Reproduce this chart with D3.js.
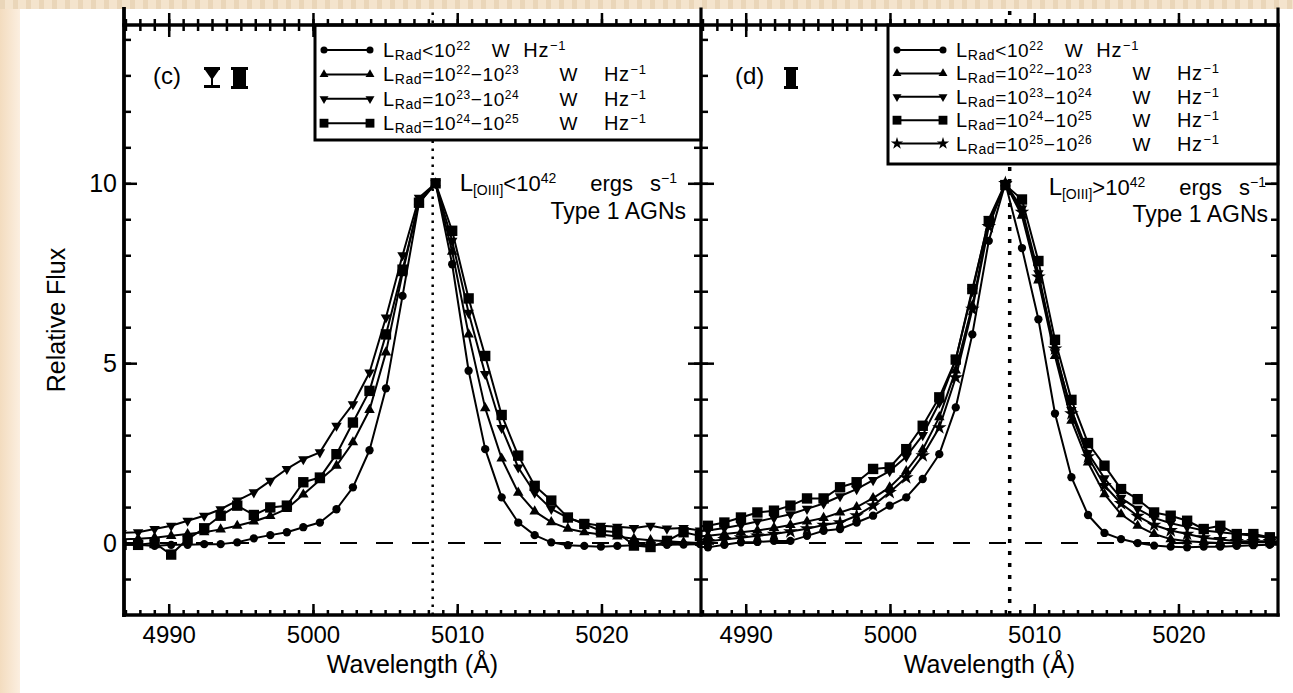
<!DOCTYPE html>
<html>
<head>
<meta charset="utf-8">
<script src="https://cdn.jsdelivr.net/npm/d3@7"></script>
<style>
  html, body { margin: 0; padding: 0; background: #fff; }
  svg { display: block; font-family: "Liberation Sans", Arial, Helvetica, sans-serif; }
</style>
</head>
<body>
<svg id="fig" width="1293" height="693"></svg>
<script>
// ---- data -------------------------------------------------------------
// Rest-frame wavelength grid (Å) of the stacked [O III] 5007 profiles
const waveC = [4986.73, 4987.88, 4989.02, 4990.17, 4991.31, 4992.46, 4993.60, 4994.75, 4995.90, 4997.04,
               4998.19, 4999.33, 5000.48, 5001.63, 5002.77, 5003.92, 5005.06, 5006.21, 5007.35, 5008.50,
               5009.65, 5010.79, 5011.94, 5013.08, 5014.23, 5015.37, 5016.52, 5017.67, 5018.81, 5019.96,
               5021.10, 5022.25, 5023.40, 5024.54, 5025.69, 5026.83, 5027.98];
const waveD = [4986.23, 4987.38, 4988.52, 4989.67, 4990.81, 4991.96, 4993.10, 4994.25, 4995.40, 4996.54,
               4997.69, 4998.83, 4999.98, 5001.13, 5002.27, 5003.42, 5004.56, 5005.71, 5006.85, 5008.00,
               5009.15, 5010.29, 5011.44, 5012.58, 5013.73, 5014.87, 5016.02, 5017.17, 5018.31, 5019.46,
               5020.60, 5021.75, 5022.90, 5024.04, 5025.19, 5026.33, 5027.48];

// Panel (c): L[OIII] < 1e42 erg/s, relative flux per radio-luminosity bin
const fluxC_rad22 = [-0.05, -0.05, -0.08, -0.05, -0.05, -0.03, -0.03, 0.02, 0.13, 0.22,
                     0.30, 0.44, 0.57, 0.94, 1.55, 2.58, 4.30, 6.87, 9.45, 10.0,
                     7.75, 4.79, 2.61, 1.27, 0.57, 0.22, 0.02, -0.06, -0.08, -0.10,
                     -0.08, -0.06, -0.05, -0.05, -0.04, -0.03, -0.03];
const fluxC_rad23 = [0.10, 0.12, 0.15, 0.20, 0.25, 0.30, 0.38, 0.48, 0.60, 0.75,
                     0.95, 1.35, 1.75, 2.15, 2.80, 3.70, 5.30, 7.50, 9.50, 10.0,
                     8.10, 5.80, 3.75, 2.35, 1.40, 0.88, 0.58, 0.40, 0.30, 0.24,
                     0.18, 0.12, 0.08, 0.05, 0.02, 0.00, 0.00];
const fluxC_rad24 = [0.28, 0.30, 0.39, 0.48, 0.62, 0.76, 0.94, 1.18, 1.41, 1.73,
                     2.06, 2.33, 2.52, 3.26, 3.86, 4.74, 6.27, 8.00, 9.60, 10.0,
                     8.40, 6.40, 4.70, 3.20, 2.10, 1.40, 0.95, 0.70, 0.55, 0.48,
                     0.45, 0.42, 0.48, 0.40, 0.42, 0.35, 0.30];
const fluxC_rad25 = [-0.05, -0.05, 0.00, -0.32, 0.11, 0.41, 0.76, 1.04, 0.78, 0.99,
                     1.04, 1.69, 1.82, 2.47, 3.35, 4.23, 5.80, 7.60, 9.46, 10.0,
                     8.68, 6.80, 5.20, 3.56, 2.43, 1.59, 1.18, 0.71, 0.53, 0.34,
                     0.30, -0.07, -0.11, 0.06, 0.30, 0.20, 0.15];

// Panel (d): L[OIII] > 1e42 erg/s
const fluxD_rad22 = [-0.10, -0.12, -0.05, 0.02, 0.03, 0.06, 0.06, 0.20, 0.34, 0.39,
                     0.57, 0.76, 1.04, 1.27, 1.78, 2.47, 3.77, 5.80, 8.40, 10.0,
                     8.20, 6.22, 3.60, 1.83, 0.78, 0.28, 0.11, 0.00, -0.07, -0.10,
                     -0.12, -0.10, -0.10, -0.08, -0.06, -0.05, -0.05];
const fluxD_rad23 = [0.18, 0.20, 0.25, 0.30, 0.35, 0.42, 0.50, 0.60, 0.70, 0.85,
                     1.00, 1.25, 1.55, 2.00, 2.60, 3.50, 4.80, 6.60, 8.90, 10.0,
                     9.10, 7.30, 5.20, 3.40, 2.24, 1.36, 0.80, 0.48, 0.25, 0.11,
                     0.05, 0.02, 0.00, 0.00, 0.02, 0.02, 0.02];
const fluxD_rad24 = [0.32, 0.35, 0.42, 0.50, 0.60, 0.70, 0.80, 0.95, 1.10, 1.30,
                     1.50, 1.75, 2.00, 2.40, 3.00, 3.90, 5.10, 7.00, 9.00, 10.0,
                     9.30, 7.50, 5.30, 3.70, 2.50, 1.80, 1.25, 0.95, 0.70, 0.55,
                     0.45, 0.35, 0.30, 0.25, 0.20, 0.15, 0.15];
const fluxD_rad25 = [0.45, 0.48, 0.57, 0.71, 0.85, 0.90, 1.04, 1.24, 1.24, 1.55,
                     1.69, 2.06, 2.10, 2.61, 3.26, 4.05, 5.10, 7.06, 8.95, 9.95,
                     9.55, 7.84, 5.65, 3.98, 2.78, 2.15, 1.50, 1.22, 0.85, 0.76,
                     0.62, 0.39, 0.48, 0.25, 0.25, 0.16, 0.15];
const fluxD_rad26 = [0.03, 0.05, 0.10, 0.15, 0.20, 0.25, 0.32, 0.40, 0.50, 0.57,
                     0.76, 1.04, 1.41, 1.82, 2.43, 3.21, 4.60, 6.50, 8.80, 10.0,
                     9.20, 7.40, 5.40, 3.60, 2.40, 1.60, 1.10, 0.75, 0.50, 0.35,
                     0.25, 0.15, 0.10, 0.05, 0.05, 0.05, 0.05];

// Legend pieces: relation sign and powers of ten (W Hz^-1)
const radRelation = ["<", "=", "=", "=", "="];
const radLowPower = ["22", "22", "23", "24", "25"];
const radHighPower = [null, "23", "24", "25", "26"];
const radSymbols = ["circle", "triangleUp", "triangleDown", "square", "star"];

// Axis ticks
const xTickLabels = [4990, 5000, 5010, 5020];
const yTickLabels = [0, 5, 10];
const lineCentre = 5008.3;   // [O III] 5007 vacuum wavelength marker

// ---- layout -----------------------------------------------------------
const svg = d3.select("#fig");
const W = 1293, H = 693;
const plotTop = 25, plotBottom = 615, figTop = 9;
const panels = [
  { id: "c", left: 124, right: 701, wave: waveC,
    series: [fluxC_rad22, fluxC_rad23, fluxC_rad24, fluxC_rad25],
    oiii: "<", legendBox: [315, 701, 140], legendStep: 24.4,
    noteX: [677, 686], noteY: [191, 219], dotWidth: 2.5, dotDash: "2.5,5.5" },
  { id: "d", left: 701, right: 1278, wave: waveD,
    series: [fluxD_rad22, fluxD_rad23, fluxD_rad24, fluxD_rad25, fluxD_rad26],
    oiii: ">", legendBox: [888, 1278, 164], legendStep: 23.4,
    noteX: [1266, 1268], noteY: [195, 222], dotWidth: 3.5, dotDash: "4,8" }
];

const y = d3.scaleLinear().domain([-2, 14.4]).range([plotBottom, plotTop]);

// ---- background -------------------------------------------------------
const defs = svg.append("defs");
const pat = defs.append("pattern").attr("id", "stripes")
  .attr("patternUnits", "userSpaceOnUse").attr("width", 13).attr("height", 20);
pat.append("rect").attr("width", 13).attr("height", 20).attr("fill", "#f4e4cd");
pat.append("rect").attr("x", 0).attr("width", 5).attr("height", 20).attr("fill", "#ead6b9");
const lg = defs.append("linearGradient").attr("id", "edge").attr("x1", 0).attr("x2", 1).attr("y1", 0).attr("y2", 0);
lg.append("stop").attr("offset", 0).attr("stop-color", "#f3dcbf");
lg.append("stop").attr("offset", 1).attr("stop-color", "#fcefe0");

svg.append("rect").attr("width", W).attr("height", H).attr("fill", "url(#stripes)");
svg.append("rect").attr("x", 0).attr("y", figTop).attr("width", 20).attr("height", H - figTop).attr("fill", "url(#edge)");
svg.append("rect").attr("x", 20).attr("y", figTop).attr("width", W - 20).attr("height", H - figTop).attr("fill", "#fff");

// ---- marker shapes ----------------------------------------------------
const symbolOf = {
  circle: d3.symbol(d3.symbolCircle, 54),
  triangleUp: d3.symbol(d3.symbolTriangle, 48),
  triangleDown: d3.symbol(d3.symbolTriangle, 48),
  square: d3.symbol(d3.symbolSquare, 108),
  star: d3.symbol(d3.symbolStar, 66)
};
function drawMarker(g, type, cx, cy, scale = 1) {
  const rot = type === "triangleDown" ? " rotate(180)" : "";
  g.append("path")
    .attr("d", symbolOf[type]())
    .attr("transform", `translate(${cx},${cy})${rot} scale(${scale})`)
    .attr("fill", "#000");
}

// ---- text helpers -----------------------------------------------------
function radLabel(g, i, x, yb) {
  const wide = !!radHighPower[i];
  const t = g.append("text").attr("x", x).attr("y", yb).attr("font-size", 19)
    .attr("letter-spacing", 0.6).attr("fill", "#000");
  t.append("tspan").attr("font-size", 20).text("L");
  t.append("tspan").attr("font-size", 14).attr("dy", 3).text("Rad");
  t.append("tspan").attr("dy", -3).text(radRelation[i] + "10");
  t.append("tspan").attr("font-size", 12).attr("dy", -7).text(radLowPower[i]);
  if (wide) {
    t.append("tspan").attr("dy", 7).text("\u221210");
    t.append("tspan").attr("font-size", 12).attr("dy", -7).text(radHighPower[i]);
  }
  t.append("tspan").attr("dy", 7).attr("dx", wide ? 40 : 21).text("W");
  t.append("tspan").attr("dx", wide ? 26 : 13).attr("font-size", 20).text("Hz");
  t.append("tspan").attr("font-size", 13).attr("dy", -7).attr("dx", 1).text("\u22121");
}
function oiiiNote(g, rel, x, yb) {
  const t = g.append("text").attr("x", x).attr("y", yb).attr("font-size", 22)
    .attr("text-anchor", "end").attr("fill", "#000");
  t.append("tspan").attr("font-size", 24).text("L");
  t.append("tspan").attr("font-size", 14).attr("dy", 4).text("[OIII]");
  t.append("tspan").attr("dy", -4).text(rel + "10");
  t.append("tspan").attr("font-size", 14).attr("dy", -8).text("42");
  t.append("tspan").attr("dy", 8).attr("dx", 34).text("ergs");
  t.append("tspan").attr("dx", 17).text("s");
  t.append("tspan").attr("font-size", 14).attr("dy", -8).text("\u22121");
}

// ---- panels -----------------------------------------------------------
panels.forEach((p, pi) => {
  const x = d3.scaleLinear().domain([4986.9, 5026.9]).range([p.left, p.right]);
  const g = svg.append("g");

  // clip region for the profiles
  defs.append("clipPath").attr("id", "clip-" + p.id)
    .append("rect").attr("x", p.left).attr("y", plotTop)
    .attr("width", p.right - p.left).attr("height", plotBottom - plotTop);

  // zero level and line-centre marker
  g.append("line").attr("x1", x.range()[0]).attr("x2", x.range()[1])
    .attr("y1", y(0)).attr("y2", y(0))
    .attr("stroke", "#000").attr("stroke-width", 2).attr("stroke-dasharray", "17,19");
  g.append("line").attr("x1", x(lineCentre)).attr("x2", x(lineCentre))
    .attr("y1", plotBottom).attr("y2", figTop + 2)
    .attr("stroke", "#000").attr("stroke-width", p.dotWidth).attr("stroke-dasharray", p.dotDash);

  // profiles
  const curves = g.append("g").attr("clip-path", `url(#clip-${p.id})`);
  const line = d3.line().x((d, i) => x(p.wave[i])).y(d => y(d));
  p.series.forEach((vals, si) => {
    curves.append("path").datum(vals).attr("d", line)
      .attr("fill", "none").attr("stroke", "#000").attr("stroke-width", 2)
      .attr("stroke-linejoin", "round");
  });
  p.series.forEach((vals, si) => {
    vals.forEach((v, i) => drawMarker(curves, radSymbols[si], x(p.wave[i]), y(v)));
  });

  // axes: ticks from d3 axes, frame drawn as heavy lines
  const tickStyle = sel => {
    sel.select(".domain").remove();
    sel.selectAll(".tick line").attr("stroke", "#000").attr("stroke-width", 2.5);
    sel.selectAll(".tick text").attr("fill", "#000").attr("font-size", 24)
      .attr("font-family", "Liberation Sans, Arial, sans-serif");
  };
  const minorX = d3.range(4987, 5027);
  const minorY = d3.range(-1, 15);

  // bottom
  g.append("g").attr("transform", `translate(0,${plotBottom})`)
    .call(d3.axisBottom(x).tickValues(minorX).tickSizeInner(-5).tickSizeOuter(0).tickFormat(""))
    .call(tickStyle);
  g.append("g").attr("transform", `translate(0,${plotBottom})`)
    .call(d3.axisBottom(x).tickValues(xTickLabels).tickSizeInner(-11).tickSizeOuter(0).tickPadding(11).tickFormat(d3.format("d")))
    .call(tickStyle);
  // top (shared border: ticks point both ways)
  [6, -6].forEach(s => {
    g.append("g").attr("transform", `translate(0,${plotTop})`)
      .call(d3.axisTop(x).tickValues(minorX).tickSizeInner(s).tickSizeOuter(0).tickFormat(""))
      .call(tickStyle);
  });
  [12, -12].forEach(s => {
    g.append("g").attr("transform", `translate(0,${plotTop})`)
      .call(d3.axisTop(x).tickValues(xTickLabels).tickSizeInner(s).tickSizeOuter(0).tickFormat(""))
      .call(tickStyle);
  });
  // left side
  g.append("g").attr("transform", `translate(${p.left},0)`)
    .call(d3.axisLeft(y).tickValues(minorY).tickSizeInner(-7).tickSizeOuter(0).tickFormat(""))
    .call(tickStyle);
  g.append("g").attr("transform", `translate(${p.left},0)`)
    .call(d3.axisLeft(y).tickValues(yTickLabels).tickSizeInner(-13).tickSizeOuter(0).tickPadding(7)
      .tickFormat(pi === 0 ? d3.format("d") : () => ""))
    .call(tickStyle)
    .call(sel => sel.selectAll(".tick text").attr("font-size", 25));
  // right side
  g.append("g").attr("transform", `translate(${p.right},0)`)
    .call(d3.axisRight(y).tickValues(minorY).tickSizeInner(-7).tickSizeOuter(0).tickFormat(""))
    .call(tickStyle);
  g.append("g").attr("transform", `translate(${p.right},0)`)
    .call(d3.axisRight(y).tickValues(yTickLabels).tickSizeInner(-13).tickSizeOuter(0).tickFormat(""))
    .call(tickStyle);

  // x title
  g.append("text").attr("x", (p.left + p.right) / 2).attr("y", 673)
    .attr("text-anchor", "middle").attr("font-size", 25).attr("fill", "#000")
    .text("Wavelength (\u00c5)");

  // legend box
  const [bx0, bx1, by1] = p.legendBox;
  g.append("rect").attr("x", bx0).attr("y", plotTop).attr("width", bx1 - bx0).attr("height", by1 - plotTop)
    .attr("fill", "#fff").attr("stroke", "#000").attr("stroke-width", 3);
  p.series.forEach((vals, si) => {
    const ry = 50 + si * p.legendStep;
    const lx0 = bx0 + 7, lx1 = bx0 + 57;
    g.append("line").attr("x1", lx0).attr("x2", lx1).attr("y1", ry).attr("y2", ry)
      .attr("stroke", "#000").attr("stroke-width", 2);
    drawMarker(g, radSymbols[si], lx0 + 2, ry, 0.85);
    drawMarker(g, radSymbols[si], lx1 - 2, ry, 0.85);
    radLabel(g, si, bx0 + 68, ry + 7);
  });

  // luminosity class note
  oiiiNote(g, p.oiii, p.noteX[0], p.noteY[0]);
  g.append("text").attr("x", p.noteX[1]).attr("y", p.noteY[1]).attr("text-anchor", "end")
    .attr("font-size", 23).attr("fill", "#000").text("Type 1 AGNs");

  // panel tag
  g.append("text").attr("x", p.left + (pi === 0 ? 29 : 34)).attr("y", 84)
    .attr("font-size", 24).attr("fill", "#000").text(`(${p.id})`);
});

// panel tag glyphs
const tagGlyphs = svg.append("g").attr("fill", "#000");
// (c): bar-capped down triangle and bar-capped block
tagGlyphs.append("path").attr("d",
  "M204,67h16v3h-16z M205,70h14l-7,10z M211,78h2v8h-2z M204,85h16v3h-16z");
tagGlyphs.append("path").attr("d",
  "M231,67h17v3h-17z M233,67h13v22h-13z M231,86h17v3h-17z");
// (d): bar-capped block
tagGlyphs.append("path").attr("d",
  "M784,67h14v3h-14z M786,67h10v22h-10z M784,86h14v3h-14z");

// heavy frame lines
const frame = svg.append("g").attr("stroke", "#000").attr("stroke-linecap", "square");
[[124, 3.8], [701, 3.2], [1278, 3.2]].forEach(([fx, w]) => {
  frame.append("line").attr("x1", fx).attr("x2", fx).attr("y1", figTop).attr("y2", plotBottom)
    .attr("stroke-width", w);
});
frame.append("line").attr("x1", 124).attr("x2", 1278).attr("y1", plotTop).attr("y2", plotTop).attr("stroke-width", 3.5);
frame.append("line").attr("x1", 124).attr("x2", 1278).attr("y1", plotBottom).attr("y2", plotBottom).attr("stroke-width", 3.5);

// y title
svg.append("text").attr("transform", `translate(65,${(plotTop + plotBottom) / 2}) rotate(-90)`)
  .attr("text-anchor", "middle").attr("font-size", 25).attr("fill", "#000").text("Relative Flux");
</script>
</body>
</html>
